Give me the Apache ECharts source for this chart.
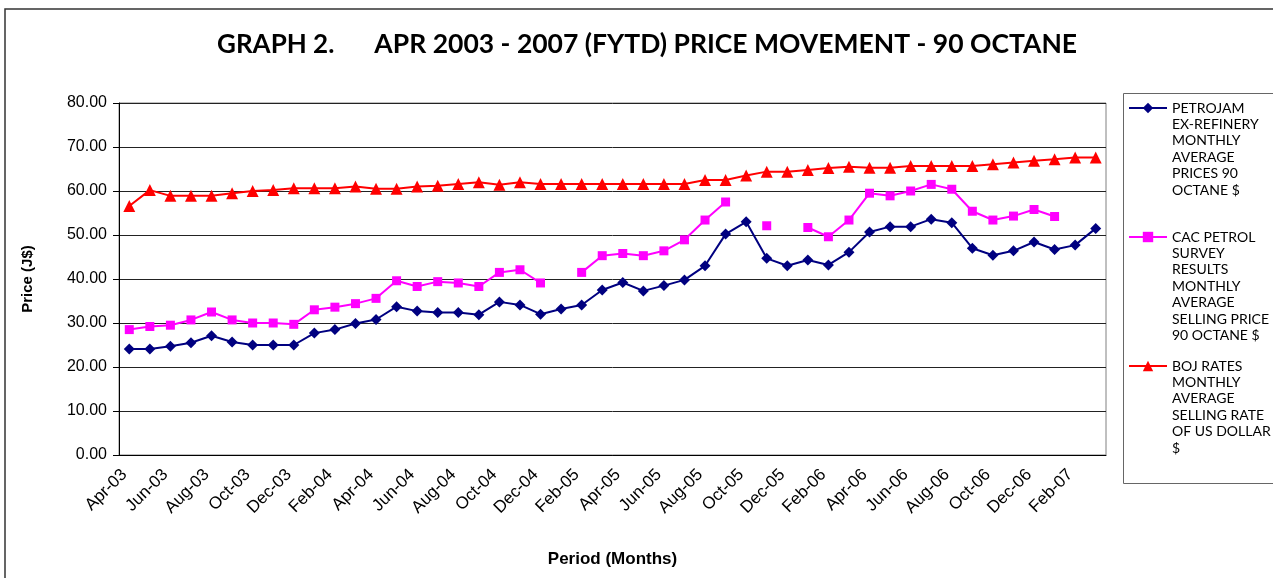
<!DOCTYPE html>
<html lang="en">
<head>
  <meta charset="utf-8">
  <title>Graph 2 - 90 Octane price movement</title>
  <script src="https://cdn.jsdelivr.net/npm/echarts@6/dist/echarts.min.js"></script>
  <style>
    html, body { margin: 0; padding: 0; background: #fff; }
    #container { width: 1273px; height: 578px; }
  </style>
</head>
<body>
<div id="container"></div>
<script>
  // months Apr-03 .. Mar-07
  var months = [
    'Apr-03', 'May-03', 'Jun-03', 'Jul-03', 'Aug-03', 'Sep-03', 'Oct-03', 'Nov-03', 'Dec-03', 'Jan-04', 'Feb-04', 'Mar-04',
    'Apr-04', 'May-04', 'Jun-04', 'Jul-04', 'Aug-04', 'Sep-04', 'Oct-04', 'Nov-04', 'Dec-04', 'Jan-05', 'Feb-05', 'Mar-05',
    'Apr-05', 'May-05', 'Jun-05', 'Jul-05', 'Aug-05', 'Sep-05', 'Oct-05', 'Nov-05', 'Dec-05', 'Jan-06', 'Feb-06', 'Mar-06',
    'Apr-06', 'May-06', 'Jun-06', 'Jul-06', 'Aug-06', 'Sep-06', 'Oct-06', 'Nov-06', 'Dec-06', 'Jan-07', 'Feb-07', 'Mar-07'
  ];

  var petrojam = [
    24.1, 24.1, 24.7, 25.5, 27.1, 25.7, 25.0, 25.0, 25.0, 27.7, 28.5, 29.9,
    30.8, 33.7, 32.7, 32.4, 32.4, 31.9, 34.8, 34.1, 32.0, 33.2, 34.1, 37.5,
    39.2, 37.3, 38.5, 39.8, 43.0, 50.2, 53.0, 44.7, 43.0, 44.3, 43.2, 46.1,
    50.7, 51.9, 51.9, 53.6, 52.8, 47.0, 45.4, 46.4, 48.4, 46.7, 47.7, 51.5
  ];

  var cacSurvey = [
    28.5, 29.2, 29.5, 30.7, 32.5, 30.7, 30.0, 30.0, 29.7, 33.0, 33.6, 34.4,
    35.6, 39.6, 38.3, 39.4, 39.1, 38.3, 41.5, 42.1, 39.1, null, 41.5, 45.3,
    45.8, 45.3, 46.4, 48.9, 53.4, 57.5, null, 52.1, null, 51.7, 49.6, 53.4,
    59.5, 58.9, 60.0, 61.5, 60.4, 55.4, 53.4, 54.3, 55.8, 54.2, null, null
  ];

  var bojRate = [
    56.6, 60.2, 58.9, 58.9, 58.9, 59.5, 60.0, 60.2, 60.6, 60.6, 60.6, 61.0,
    60.5, 60.5, 61.0, 61.2, 61.6, 62.0, 61.4, 62.0, 61.6, 61.6, 61.6, 61.6,
    61.6, 61.6, 61.6, 61.6, 62.5, 62.5, 63.5, 64.4, 64.4, 64.8, 65.2, 65.5,
    65.3, 65.3, 65.7, 65.7, 65.7, 65.7, 66.1, 66.5, 66.9, 67.2, 67.6, 67.6
  ];

  // legend text, one entry per line
  var nameLines = [
    ['PETROJAM', 'EX-REFINERY', 'MONTHLY', 'AVERAGE', 'PRICES 90', 'OCTANE $'],
    ['CAC PETROL', 'SURVEY', 'RESULTS', 'MONTHLY', 'AVERAGE', 'SELLING PRICE', '90 OCTANE $'],
    ['BOJ RATES', 'MONTHLY', 'AVERAGE', 'SELLING RATE', 'OF US DOLLAR', '$']
  ];
  var seriesNames = nameLines.map(function (l) { return l.join('\n'); });

  var LH = 16.4;
  var chart = echarts.init(document.getElementById('container'));

  var option = {
    animation: false,
    backgroundColor: '#fff',
    title: {
      left: 212,
      top: 26,
      text: '{a|GRAPH 2.}{b|APR 2003 - 2007 (FYTD) PRICE MOVEMENT - 90 OCTANE}',
      textStyle: {
        rich: {
          a: { fontFamily: 'Lato', fontWeight: 'bold', fontSize: 26, color: '#000' },
          b: { fontFamily: 'Lato', fontWeight: 'bold', fontSize: 26.5, color: '#000', padding: [0, 0, 0, 40] }
        }
      }
    },
    legend: {
      orient: 'vertical',
      left: 1128,
      top: 17.8,
      padding: 0,
      itemWidth: 38,
      itemHeight: 13,
      itemGap: -67.8,
      selectedMode: false,
      textStyle: { fontFamily: 'Lato', fontSize: 14, color: '#000', lineHeight: LH },
      // blank lines on top so the first line sits level with the icon
      formatter: function (name) {
        var n = name.split('\n').length;
        return new Array(n).join('\n') + name;
      },
      data: seriesNames
    },
    grid: {
      left: 119,
      right: 167,
      top: 103,
      bottom: 123,
      show: true,
      borderColor: '#808080',
      borderWidth: 1
    },
    xAxis: {
      type: 'category',
      data: months,
      boundaryGap: true,
      name: 'Period (Months)',
      nameLocation: 'middle',
      nameGap: 96,
      nameTextStyle: { fontFamily: 'Liberation Sans', fontWeight: 'bold', fontSize: 17, color: '#000' },
      axisLine: { lineStyle: { color: '#000', width: 1 } },
      axisTick: { interval: 1, length: 6, lineStyle: { color: '#000' } },
      axisLabel: {
        interval: 1, rotate: 45, margin: 12, padding: [0, 7, 0, 0],
        fontFamily: 'Liberation Sans', fontSize: 17, color: '#000'
      },
      splitLine: { show: false }
    },
    yAxis: {
      type: 'value',
      min: 0,
      max: 80,
      interval: 10,
      name: 'Price (J$)',
      nameLocation: 'middle',
      nameGap: 84,
      nameRotate: 90,
      nameTextStyle: { fontFamily: 'Liberation Sans', fontWeight: 'bold', fontSize: 15, color: '#000' },
      axisLine: { show: true, lineStyle: { color: '#000', width: 1 } },
      axisTick: { show: true, length: 6, lineStyle: { color: '#000' } },
      axisLabel: {
        margin: 12,
        fontFamily: 'Liberation Sans',
        fontSize: 16,
        color: '#000',
        formatter: function (v) { return v.toFixed(2); }
      },
      splitLine: { lineStyle: { color: '#222', width: 1 } }
    },
    series: [
      {
        name: seriesNames[0],
        type: 'line',
        data: petrojam,
        color: '#000080',
        symbol: 'diamond',
        symbolSize: 11,
        showAllSymbol: true,
        lineStyle: { width: 2 },
        z: 4
      },
      {
        name: seriesNames[1],
        type: 'line',
        data: cacSurvey,
        color: '#FF00FF',
        symbol: 'rect',
        symbolSize: 9,
        showAllSymbol: true,
        lineStyle: { width: 2 },
        z: 3
      },
      {
        name: seriesNames[2],
        type: 'line',
        data: bojRate,
        color: '#FF0000',
        symbol: 'triangle',
        symbolSize: 12,
        showAllSymbol: true,
        lineStyle: { width: 2 },
        z: 2
      }
    ],
    graphic: [
      {
        type: 'rect', silent: true,
        shape: { x: 5, y: 9, width: 1400, height: 700 },
        style: { fill: 'none', stroke: '#333', lineWidth: 1.5 }
      },
      {
        type: 'rect', silent: true,
        shape: { x: 1123.5, y: 93.5, width: 300, height: 390 },
        style: { fill: 'none', stroke: '#666', lineWidth: 1 }
      }
    ]
  };

  chart.setOption(option);
</script>
</body>
</html>
